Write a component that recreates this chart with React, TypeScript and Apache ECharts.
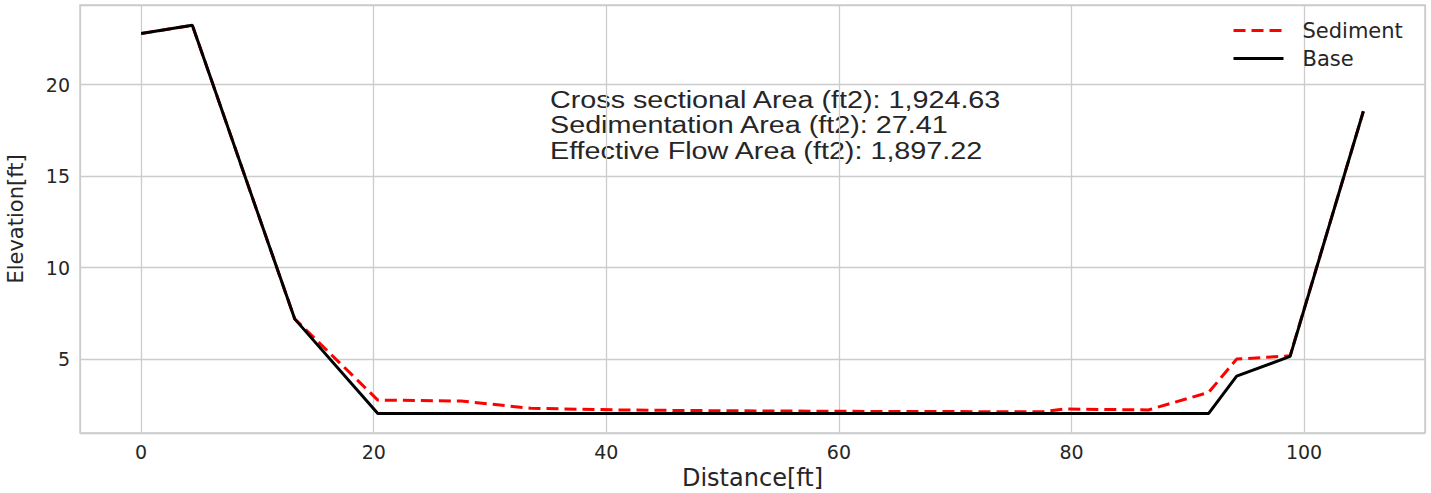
import React, { useEffect, useRef } from "react";
import * as echarts from "echarts";

// Stations along the cross section (ft)
const stations = [0, 4.4, 13.2, 20.35, 27.5, 33.5, 41, 49, 56, 63, 70, 77.5, 79.3, 86.6, 91.8, 94.2, 98.8, 105.1];
// Sediment surface elevation (ft)
const sediment = [22.8, 23.25, 7.2, 2.76, 2.71, 2.31, 2.22, 2.18, 2.16, 2.14, 2.13, 2.12, 2.27, 2.22, 3.18, 5.0, 5.18, 18.55];
// Base (bed) elevation (ft)
const base = [22.8, 23.25, 7.2, 2.03, 2.03, 2.03, 2.03, 2.03, 2.03, 2.03, 2.03, 2.03, 2.03, 2.03, 2.03, 4.07, 5.15, 18.55];

const xTickLabels = [0, 20, 40, 60, 80, 100];
const yTickLabels = [5, 10, 15, 20];

const annotationLines = [
  "Cross sectional Area (ft2): 1,924.63",
  "Sedimentation Area (ft2): 27.41",
  "Effective Flow Area (ft2): 1,897.22",
];

const seriesNames = ["Sediment", "Base"];

export default function App() {
  const ref = useRef<HTMLDivElement>(null);
  useEffect(() => {
    if (!ref.current) return;
    const chart = echarts.init(ref.current, null, { renderer: "svg" });
    const textColor = "#262626";
    const font = "DejaVu Sans";
    chart.setOption({
      animation: false,
      backgroundColor: "#ffffff",
      grid: {
        left: 80,
        top: 5,
        right: 6,
        bottom: 60,
        show: true,
        borderColor: "#cccccc",
        borderWidth: 1.5,
        containLabel: false,
        outerBoundsMode: "none",
      },
      legend: {
        orient: "vertical",
        left: 1227,
        top: 15,
        itemWidth: 50,
        itemHeight: 14,
        itemGap: 7,
        data: seriesNames,
        itemStyle: { opacity: 0 },
        lineStyle: { width: 3 },
        textStyle: {
          fontFamily: font,
          fontSize: 21,
          color: textColor,
          padding: [0, 0, 0, 14],
        },
      },
      xAxis: {
        type: "value",
        min: -5.26,
        max: 110.4,
        splitNumber: 6,
        axisLine: { show: false },
        axisTick: { show: false },
        splitLine: { show: true, lineStyle: { color: "#cccccc", width: 1.3 } },
        axisLabel: {
          fontFamily: font,
          fontSize: 19,
          color: textColor,
          margin: 9,
          showMinLabel: false,
          showMaxLabel: false,
          formatter: (v: number) => (xTickLabels.some((t) => Math.abs(t - v) < 1e-6) ? String(v) : ""),
        },
        name: "Distance[ft]",
        nameLocation: "middle",
        nameGap: 33,
        nameTextStyle: { fontFamily: font, fontSize: 24, color: textColor },
      },
      yAxis: {
        type: "value",
        min: 0.96,
        max: 24.36,
        splitNumber: 5,
        axisLine: { show: false },
        axisTick: { show: false },
        splitLine: { show: true, lineStyle: { color: "#cccccc", width: 1.3 } },
        axisLabel: {
          fontFamily: font,
          fontSize: 19,
          color: textColor,
          margin: 10,
          showMinLabel: false,
          showMaxLabel: false,
          formatter: (v: number) => (yTickLabels.some((t) => Math.abs(t - v) < 1e-6) ? String(v) : ""),
        },
        name: "Elevation[ft]",
        nameLocation: "middle",
        nameGap: 54,
        nameTextStyle: { fontFamily: font, fontSize: 21, color: textColor },
      },
      graphic: [
        {
          type: "text",
          left: 550,
          top: 87,
          scaleX: 1.25,
          style: {
            text: annotationLines.join("\n"),
            fontFamily: "Liberation Sans",
            fontSize: 23,
            lineHeight: 25.5,
            fill: textColor,
          },
        },
      ],
      series: [
        {
          name: seriesNames[0],
          type: "line",
          symbol: "none",
          data: stations.map((x, i) => [x, sediment[i]]),
          lineStyle: { color: "#ff0000", width: 3, type: [12, 6] },
          itemStyle: { color: "#ff0000" },
        },
        {
          name: seriesNames[1],
          type: "line",
          symbol: "none",
          data: stations.map((x, i) => [x, base[i]]),
          lineStyle: { color: "#000000", width: 3 },
          itemStyle: { color: "#000000" },
        },
      ],
    });
    return () => chart.dispose();
  }, []);
  return (
    <div
      ref={ref}
      style={{ position: "fixed", left: 0, top: 0, width: 1431, height: 493, background: "#fff" }}
    />
  );
}
